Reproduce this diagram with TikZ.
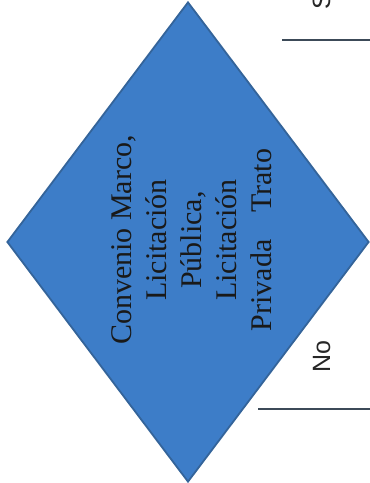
\documentclass[tikz,border=0pt]{standalone}
\usepackage{fontspec}
\setmainfont{Liberation Serif}
\setsansfont{Liberation Sans}
\usetikzlibrary{shapes.geometric, positioning}
\definecolor{rombBlue}{HTML}{3D7DC8}
\definecolor{rombEdge}{HTML}{34649A}
\definecolor{lineaGris}{HTML}{3C4A58}

\begin{document}
\begin{tikzpicture}[x=1pt, y=1pt,
    decision/.style={diamond, draw=rombEdge, fill=rombBlue, line width=1.8pt,
                 minimum width=362pt, minimum height=480pt, inner sep=0pt},
    decisiontxt/.style={rotate=90, align=center, text=black!90, inner sep=0pt,
                 font=\fontsize{30}{35}\selectfont},
    branch/.style={rotate=90, inner sep=0pt, text=black!85,
                 font=\sffamily\fontsize{25}{28}\selectfont},
    salida/.style={draw=lineaGris, line width=1.2pt},
  ]
  \useasboundingbox (0,0) rectangle (370,483);
  \node[decision] (rombo) at (188,241) {};
  \node[decisiontxt] (tipo) at ([xshift=4pt, yshift=2pt]rombo.center)
    {Convenio Marco,\\ Licitación\\ Pública,\\ Licitación\\ Privada\hspace{0.9em}Trato};

  % ramas
  \node[branch, anchor=base west] (si) at (330,473) {S};
  \node[branch, anchor=base] (no) at (330,126) {No};
  \coordinate (si-ini) at (282,443);
  \coordinate (si-fin) at (370,443);
  \coordinate (no-ini) at (258,74);
  \coordinate (no-fin) at (370,74);
  \draw[salida] (si-ini) -- (si-fin);
  \draw[salida] (no-ini) -- (no-fin);
\end{tikzpicture}
\end{document}
